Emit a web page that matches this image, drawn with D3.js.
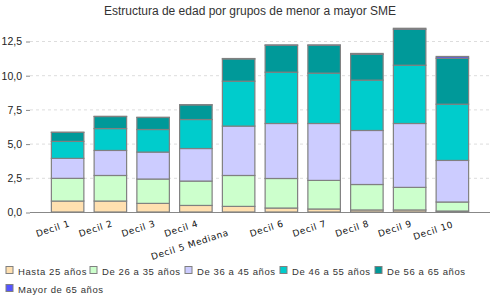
<!DOCTYPE html>
<html>
<head>
<meta charset="utf-8">
<title>Estructura de edad</title>
<script src="https://d3js.org/d3.v7.min.js"></script>
<style>
body { margin: 0; background: #fff; }
svg text { font-family: "DejaVu Sans", Verdana, sans-serif; fill: #222; }
.grid line { stroke: #ddd; stroke-dasharray: 3,3; }
</style>
</head>
<body>
<script>
// categories and series
var deciles = ["Decil 1", "Decil 2", "Decil 3", "Decil 4", "Decil 5 Mediana",
               "Decil 6", "Decil 7", "Decil 8", "Decil 9", "Decil 10"];
var seriesNames = ["Hasta 25 años", "De 26 a 35 años", "De 36 a 45 años",
                   "De 46 a 55 años", "De 56 a 65 años", "Mayor de 65 años"];
var hasta25  = [0.80, 0.80, 0.63, 0.48, 0.41, 0.29, 0.22, 0.15, 0.15, 0.07];
var de26a35  = [1.66, 1.87, 1.78, 1.78, 2.26, 2.16, 2.09, 1.86, 1.65, 0.66];
var de36a45  = [1.46, 1.83, 1.97, 2.38, 3.61, 4.02, 4.16, 3.95, 4.67, 3.04];
var de46a55  = [1.24, 1.60, 1.65, 2.12, 3.28, 3.75, 3.68, 3.68, 4.26, 4.11];
var de56a65  = [0.66, 0.88, 0.88, 1.07, 1.63, 1.97, 2.04, 1.89, 2.63, 3.36];
var mayor65  = [0.01, 0.01, 0.01, 0.01, 0.03, 0.02, 0.02, 0.06, 0.07, 0.13];
var yTicks = [0, 2.5, 5, 7.5, 10, 12.5];

var colors = ["#ffe0b0", "#ccffcc", "#ccccff", "#00cccc", "#009999", "#5555ff"];

var width = 500, height = 300;
var svg = d3.select("body").append("svg")
  .attr("width", width).attr("height", height);

var table = deciles.map(function(d, i) {
  var row = { decil: d };
  row[seriesNames[0]] = hasta25[i];
  row[seriesNames[1]] = de26a35[i];
  row[seriesNames[2]] = de36a45[i];
  row[seriesNames[3]] = de46a55[i];
  row[seriesNames[4]] = de56a65[i];
  row[seriesNames[5]] = mayor65[i];
  return row;
});
var stacked = d3.stack().keys(seriesNames)(table);

var x = d3.scaleBand().domain(deciles).range([30, 490])
  .paddingInner(0.24).paddingOuter(0.5);
var y = d3.scaleLinear().domain([0, 12.5]).range([212, 41]);

var fmt = function(v) { return d3.format(".1f")(v).replace(".", ","); };

// title
svg.append("text").attr("x", 250).attr("y", 15)
  .attr("text-anchor", "middle").style("font-size", "12px")
  .style("font-family", "'Liberation Sans', Arial, sans-serif")
  .style("fill", "#333")
  .text("Estructura de edad por grupos de menor a mayor SME");

// grid
svg.append("g").attr("class", "grid")
  .selectAll("line").data(yTicks.slice(1)).enter().append("line")
  .attr("x1", 30).attr("x2", 490)
  .attr("y1", function(d) { return y(d) + 0.5; })
  .attr("y2", function(d) { return y(d) + 0.5; });

// y axis
var yAxis = svg.append("g").attr("transform", "translate(30,0.5)")
  .call(d3.axisLeft(y).tickValues(yTicks).tickFormat(fmt).tickSize(4).tickPadding(4));
yAxis.select(".domain").remove();
yAxis.selectAll(".tick line").attr("stroke", "#888");
yAxis.selectAll("text").style("font-size", "10.5px")
  .style("font-family", "'Liberation Sans', Arial, sans-serif").style("fill", "#222");

// baseline
svg.append("line").attr("x1", 30).attr("x2", 490)
  .attr("y1", y(0) + 0.5).attr("y2", y(0) + 0.5)
  .attr("stroke", "#888");

// bars
svg.append("g").selectAll("g").data(stacked).enter().append("g")
  .attr("fill", function(d, i) { return colors[i]; })
  .selectAll("rect").data(function(d) { return d; }).enter().append("rect")
  .attr("x", function(d) { return x(d.data.decil); })
  .attr("y", function(d) { return y(d[1]); })
  .attr("width", x.bandwidth())
  .attr("height", function(d) { return y(d[0]) - y(d[1]); })
  .attr("stroke", "#808080").attr("stroke-width", 1.2);

// x labels (long labels sit a bit lower and further left)
var xl = svg.append("g").selectAll("text").data(deciles).enter().append("text")
  .attr("text-anchor", "end")
  .style("font-size", "9px").style("letter-spacing", "0.6px")
  .style("fill", "#111")
  .text(function(d) { return d; });
xl.attr("transform", function(d) {
  var extra = Math.max(0, this.getComputedTextLength() - 36);
  var cx = x(d) + x.bandwidth() / 2 + 3 - 0.27 * extra;
  var cy = 226 + 0.2 * extra;
  return "translate(" + cx + "," + cy + ") rotate(-18)";
});

// legend
var legendPos = [[6, 271], [90, 271], [185, 271], [280, 271], [375, 271], [6, 289]];
var leg = svg.append("g").selectAll("g").data(seriesNames).enter().append("g")
  .attr("transform", function(d, i) {
    return "translate(" + legendPos[i][0] + "," + legendPos[i][1] + ")";
  });
leg.append("rect").attr("x", 0).attr("y", -4.5).attr("width", 7).attr("height", 7)
  .attr("fill", function(d, i) { return colors[i]; })
  .attr("stroke", "#808080");
leg.append("text").attr("x", 12).attr("y", 3.5)
  .style("font-size", "9.5px").style("letter-spacing", "0.6px")
  .style("font-family", "'Liberation Sans', Arial, sans-serif")
  .style("fill", "#333")
  .text(function(d) { return d; });
</script>
</body>
</html>
